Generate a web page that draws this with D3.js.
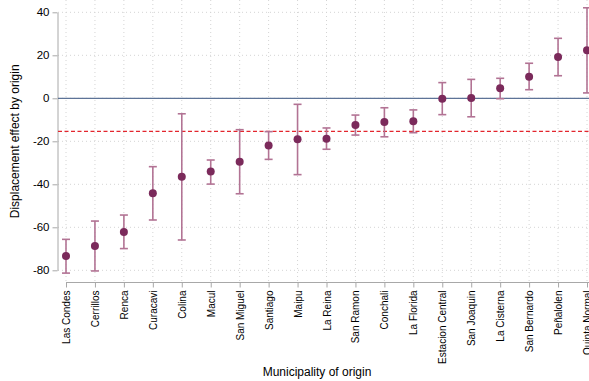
<!DOCTYPE html>
<html>
<head>
<meta charset="utf-8">
<script src="https://cdn.jsdelivr.net/npm/d3@7"></script>
<style>
  body { margin: 0; background: #fff; }
  svg { display: block; font-family: "Liberation Sans", Arial, Helvetica, sans-serif; }
</style>
</head>
<body>
<svg id="chart"></svg>
<script>
// municipalities sorted by estimate
const municipalities = ["Las Condes", "Cerrillos", "Renca", "Curacavi", "Colina", "Macul",
  "San Miguel", "Santiago", "Maipu", "La Reina", "San Ramon", "Conchali", "La Florida",
  "Estacion Central", "San Joaquin", "La Cisterna", "San Bernardo", "Peñalolen", "Quinta Normal"];
const estimate = [-73.4, -68.7, -62.2, -44.2, -36.5, -34.1, -29.5, -22.0, -19.1, -18.8, -12.4,
  -11.0, -10.7, -0.2, 0.1, 4.7, 10.0, 19.2, 22.3];
const ciLow = [-81.3, -80.3, -69.9, -56.6, -65.9, -39.9, -44.4, -28.4, -35.5, -23.7, -17.1,
  -17.9, -16.0, -7.6, -8.6, -0.2, 4.0, 10.5, 2.5];
const ciHigh = [-65.6, -57.1, -54.3, -31.8, -7.2, -28.7, -14.6, -15.5, -2.8, -13.8, -7.8,
  -4.4, -5.4, 7.3, 8.8, 9.3, 16.3, 27.9, 42.1];
const yTicks = [40, 20, 0, -20, -40, -60, -80];
const averageEffect = -15.4;

const W = 589, H = 381;
const svg = d3.select("#chart").attr("width", W).attr("height", H);

const x = d3.scalePoint().domain(municipalities).range([66, 587]);
const y = d3.scaleLinear().domain([-80, 40]).range([270.3, 12.3]);

const axisColor = "#a8a8a8";
const dotColor = "#7b2a5b";
const barColor = "#b27394";

// grid
svg.append("g")
  .selectAll("line")
  .data(yTicks)
  .join("line")
  .attr("x1", 58).attr("x2", W)
  .attr("y1", d => y(d)).attr("y2", d => y(d))
  .attr("stroke", "#d4d4d4")
  .attr("stroke-dasharray", "1,3");

svg.append("g")
  .selectAll("line")
  .data(municipalities)
  .join("line")
  .attr("x1", d => x(d)).attr("x2", d => x(d))
  .attr("y1", 0).attr("y2", 282)
  .attr("stroke", "#d4d4d4")
  .attr("stroke-dasharray", "1,3");

// y axis (plain hyphen for negatives, like the original)
const yAxis = svg.append("g")
  .attr("transform", "translate(57.5,0)")
  .call(d3.axisLeft(y).tickValues(yTicks).tickSize(5).tickSizeOuter(0).tickFormat(d => String(d)));
yAxis.select(".domain").attr("stroke", axisColor);
yAxis.selectAll(".tick line").attr("stroke", axisColor);
yAxis.selectAll(".tick text")
  .attr("x", -8)
  .attr("fill", "#000")
  .style("font-size", "11.5px")
  .style("font-family", "\"Liberation Sans\", Arial, sans-serif");

// x axis
const xAxis = svg.append("g")
  .attr("transform", "translate(0,282.5)")
  .call(d3.axisBottom(x).tickSize(5).tickSizeOuter(0));
xAxis.select(".domain").attr("d", `M66,0H${W}`).attr("stroke", axisColor);
xAxis.selectAll(".tick line").attr("stroke", axisColor);
xAxis.selectAll(".tick text")
  .attr("transform", "rotate(-90)")
  .attr("text-anchor", "end")
  .attr("x", -8)
  .attr("y", 0)
  .attr("dy", "0.35em")
  .attr("fill", "#000")
  .style("font-size", "10px")
  .style("font-family", "\"Liberation Sans\", Arial, sans-serif");

// reference lines
svg.append("line")
  .attr("x1", 58).attr("x2", W)
  .attr("y1", y(0)).attr("y2", y(0))
  .attr("stroke", "#5d7397")
  .attr("stroke-width", 1.3);

svg.append("line")
  .attr("x1", 58).attr("x2", W)
  .attr("y1", y(averageEffect)).attr("y2", y(averageEffect))
  .attr("stroke", "#e3262e")
  .attr("stroke-width", 1.2)
  .attr("stroke-dasharray", "4,2.5");

// error bars
const rows = municipalities.map((m, i) => ({ m, est: estimate[i], lo: ciLow[i], hi: ciHigh[i] }));
const bars = svg.append("g").attr("stroke", barColor).attr("stroke-width", 1.6);
bars.selectAll("line.v")
  .data(rows)
  .join("line")
  .attr("class", "v")
  .attr("x1", d => x(d.m)).attr("x2", d => x(d.m))
  .attr("y1", d => y(d.lo)).attr("y2", d => y(d.hi));
bars.selectAll("line.lo")
  .data(rows)
  .join("line")
  .attr("class", "lo")
  .attr("x1", d => x(d.m) - 4).attr("x2", d => x(d.m) + 4)
  .attr("y1", d => y(d.lo)).attr("y2", d => y(d.lo));
bars.selectAll("line.hi")
  .data(rows)
  .join("line")
  .attr("class", "hi")
  .attr("x1", d => x(d.m) - 4).attr("x2", d => x(d.m) + 4)
  .attr("y1", d => y(d.hi)).attr("y2", d => y(d.hi));

svg.append("g")
  .selectAll("circle")
  .data(rows)
  .join("circle")
  .attr("cx", d => x(d.m))
  .attr("cy", d => y(d.est))
  .attr("r", 4)
  .attr("fill", dotColor);

// titles
svg.append("text")
  .attr("transform", `translate(19,${(12.3 + 270.3) / 2}) rotate(-90)`)
  .attr("text-anchor", "middle")
  .style("font-size", "12px")
  .text("Displacement effect by origin");

svg.append("text")
  .attr("x", 317)
  .attr("y", 376)
  .attr("text-anchor", "middle")
  .style("font-size", "12px")
  .text("Municipality of origin");
</script>
</body>
</html>
